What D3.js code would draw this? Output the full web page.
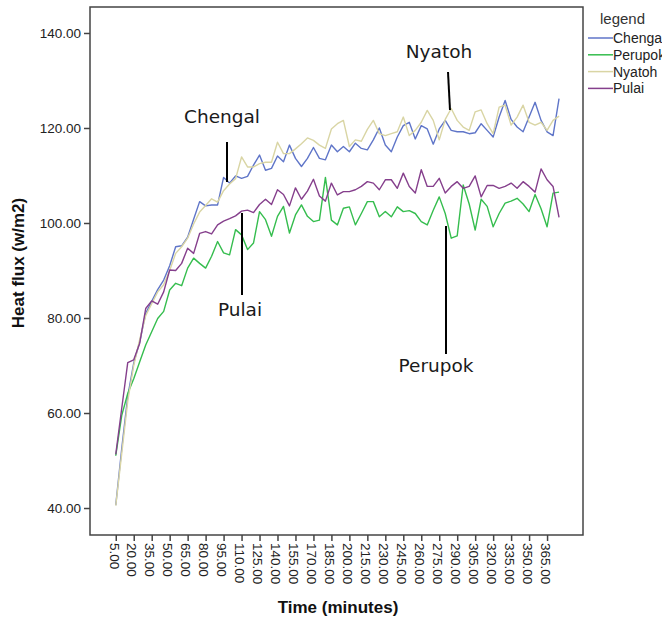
<!DOCTYPE html>
<html>
<head>
  <title>Heat flux</title>
  <script src="https://d3js.org/d3.v7.min.js"></script>
  <style>
    body { margin: 0; background: #fff; font-family: "Liberation Sans", Arial, sans-serif; }
  </style>
</head>
<body>
<div id="chart"></div>
<script>
  // time in minutes, 5 .. 375
  let times = [];
  for (let t = 5; t <= 375; t += 5) times.push(t);

  let chengal = [40.6, 52.5, 63.5, 70.5, 75.0, 81.0, 83.5, 86.0, 88.0, 91.0,
    95.0, 95.2, 97.0, 100.8, 104.5, 103.6, 103.8, 103.8, 109.6, 108.4,
    109.9, 109.4, 109.8, 112.2, 114.3, 111.1, 111.5, 114.1, 112.9, 116.4,
    113.6, 111.9, 113.6, 115.9, 113.6, 113.3, 116.4, 115.0, 116.1, 115.0,
    116.8, 115.7, 115.4, 117.5, 120.0, 116.4, 115.0, 118.1, 120.5, 121.2,
    117.7, 120.5, 119.8, 116.6, 119.8, 121.6, 119.5, 119.2, 119.2, 118.8,
    119.0, 120.9, 119.5, 118.1, 122.3, 125.8, 121.8, 120.2, 119.2, 122.3,
    125.4, 121.6, 119.2, 118.4, 126.2];
  let perupok = [51.0, 59.5, 64.1, 67.2, 70.8, 74.3, 77.1, 79.9, 81.4, 85.9,
    87.3, 86.8, 90.5, 92.6, 91.5, 90.5, 93.0, 96.1, 93.7, 93.3,
    98.6, 97.5, 94.4, 95.8, 102.4, 100.7, 97.2, 101.4, 103.5, 97.9,
    101.7, 103.8, 101.4, 100.3, 100.6, 109.6, 100.6, 99.6, 103.1, 103.4,
    99.6, 102.0, 104.5, 104.5, 101.3, 102.4, 101.3, 103.4, 102.4, 102.6,
    102.0, 100.3, 99.6, 102.7, 105.5, 102.0, 96.8, 97.3, 108.0, 104.0,
    98.5, 105.0, 103.5, 99.2, 102.0, 104.2, 104.6, 105.2, 104.0, 102.4,
    106.0, 103.0, 99.2, 106.3, 106.5];
  let nyatoh = [40.5, 51.5, 62.5, 70.0, 75.5, 80.5, 83.0, 85.5, 87.0, 90.0,
    93.6, 95.0, 96.8, 99.8, 102.3, 103.7, 105.1, 104.4, 106.8, 108.2,
    109.3, 113.9, 111.8, 111.8, 112.5, 112.8, 112.8, 117.0, 114.6, 114.6,
    115.6, 116.7, 117.9, 117.4, 116.4, 115.7, 119.8, 120.9, 121.6, 116.1,
    117.5, 117.2, 119.7, 121.6, 118.8, 118.4, 118.8, 119.2, 122.3, 118.4,
    119.5, 121.2, 123.7, 121.6, 117.5, 121.8, 124.1, 121.6, 120.2, 119.5,
    123.4, 123.8, 120.9, 118.8, 124.4, 124.8, 120.6, 122.3, 124.8, 121.2,
    120.6, 121.2, 119.5, 121.6, 122.5];
  let pulai = [51.3, 61.0, 70.6, 71.2, 74.7, 82.0, 83.6, 82.9, 85.5, 90.1,
    90.0, 91.5, 94.7, 93.6, 97.8, 98.2, 97.7, 99.6, 100.4, 100.9,
    101.5, 102.5, 102.7, 102.2, 103.9, 105.0, 103.9, 107.0, 106.0, 103.6,
    107.4, 105.0, 106.7, 109.2, 105.7, 104.6, 108.4, 105.9, 106.6, 106.6,
    107.0, 107.7, 108.7, 108.4, 107.0, 109.1, 109.1, 107.3, 110.5, 107.7,
    106.3, 111.2, 107.7, 107.7, 109.4, 106.3, 107.7, 108.7, 107.3, 107.7,
    109.9, 105.5, 107.9, 107.9, 107.3, 107.7, 108.4, 107.3, 108.7, 107.7,
    106.5, 111.4, 109.1, 107.7, 101.2];

  let seriesNames = ['Chengal', 'Perupok', 'Nyatoh', 'Pulai'];
  let seriesValues = [chengal, perupok, nyatoh, pulai];
  let colors = ['#5f75c8', '#35bd4e', '#d9d5a4', '#853f8c'];

  let yTicks = [40, 60, 80, 100, 120, 140];
  let xTicks = times.filter(t => (t - 5) % 15 === 0 && t <= 365);

  // annotation labels
  let noteNames = ['Chengal', 'Nyatoh', 'Pulai', 'Perupok'];

  let width = 662, height = 620;
  let svg = d3.select('#chart').append('svg')
    .attr('width', width)
    .attr('height', height);

  let plot = { left: 90, top: 7, right: 583, bottom: 535 };

  let x = d3.scaleLinear().domain([-16.5, 395]).range([plot.left, plot.right]);
  let y = d3.scaleLinear().domain([34.32, 145.47]).range([plot.bottom, plot.top]);

  // y axis
  let yAxis = svg.append('g')
    .attr('transform', 'translate(' + plot.left + ',0)')
    .call(d3.axisLeft(y).tickValues(yTicks).tickFormat(d3.format('.2f')).tickSize(6).tickPadding(3));
  yAxis.select('.domain').remove();
  yAxis.selectAll('line').attr('stroke', '#444').attr('stroke-width', 1.5);
  yAxis.selectAll('text').attr('fill', '#222').style('font-size', '13.5px')
    .style('font-family', '"Liberation Sans", Arial, sans-serif');

  // x axis
  let xAxis = svg.append('g')
    .attr('transform', 'translate(0,' + plot.bottom + ')')
    .call(d3.axisBottom(x).tickValues(xTicks).tickFormat(d3.format('.2f')).tickSize(6));
  xAxis.select('.domain').remove();
  xAxis.selectAll('line').attr('stroke', '#444').attr('stroke-width', 1.5);
  xAxis.selectAll('text')
    .attr('fill', '#222')
    .style('font-size', '13.5px')
    .style('font-family', '"Liberation Sans", Arial, sans-serif')
    .attr('text-anchor', 'start')
    .attr('dy', '0.35em')
    .attr('transform', 'translate(-2,-1) rotate(90)')
    .attr('x', 9)
    .attr('y', 0);

  // frame
  svg.append('rect')
    .attr('x', plot.left)
    .attr('y', plot.top)
    .attr('width', plot.right - plot.left)
    .attr('height', plot.bottom - plot.top)
    .attr('fill', 'none')
    .attr('stroke', '#444')
    .attr('stroke-width', 1.5);

  // lines
  let line = d3.line()
    .x((d, i) => x(times[i]))
    .y(d => y(d));

  seriesValues.forEach((vals, k) => {
    svg.append('path')
      .datum(vals)
      .attr('d', line)
      .attr('fill', 'none')
      .attr('stroke', colors[k])
      .attr('stroke-width', 1.4)
      .attr('stroke-linejoin', 'round');
  });

  // annotations (pointer lines + names)
  let notePos = {
    Chengal: { lx1: 227, lx2: 227, y1: 142, y2: 182, tx: 222, ty: 123 },
    Nyatoh: { lx1: 448, lx2: 450, y1: 72, y2: 110, tx: 439, ty: 58 },
    Pulai: { lx1: 242, lx2: 242, y1: 213, y2: 295, tx: 240, ty: 316 },
    Perupok: { lx1: 446, lx2: 446, y1: 226, y2: 354, tx: 436, ty: 372 }
  };
  noteNames.forEach(name => {
    let p = notePos[name];
    svg.append('line')
      .attr('x1', p.lx1).attr('x2', p.lx2)
      .attr('y1', p.y1).attr('y2', p.y2)
      .attr('stroke', '#000').attr('stroke-width', 2);
    svg.append('text')
      .attr('x', p.tx).attr('y', p.ty)
      .attr('text-anchor', 'middle')
      .style('font-family', '"DejaVu Sans", sans-serif')
      .style('font-size', '18.5px')
      .attr('fill', '#1a1a1a')
      .text(name);
  });

  // axis titles
  svg.append('text')
    .attr('transform', 'translate(24,' + 263 + ') rotate(-90)')
    .attr('text-anchor', 'middle')
    .style('font-weight', 'bold')
    .style('font-size', '17px')
    .attr('fill', '#111')
    .text('Heat flux (w/m2)');

  svg.append('text')
    .attr('x', 338).attr('y', 613)
    .attr('text-anchor', 'middle')
    .style('font-weight', 'bold')
    .style('font-size', '17px')
    .attr('fill', '#111')
    .text('Time (minutes)');

  // legend
  let legend = svg.append('g');
  legend.append('text')
    .attr('x', 600).attr('y', 24)
    .style('font-size', '15px')
    .attr('fill', '#333')
    .text('legend');
  seriesNames.forEach((name, k) => {
    let ly = 38 + k * 16.8;
    legend.append('line')
      .attr('x1', 588).attr('x2', 613)
      .attr('y1', ly).attr('y2', ly)
      .attr('stroke', colors[k]).attr('stroke-width', 1.5);
    legend.append('text')
      .attr('x', 613).attr('y', ly)
      .attr('dy', '0.35em')
      .style('font-size', '14px')
      .attr('fill', '#222')
      .text(name);
  });
</script>
</body>
</html>
